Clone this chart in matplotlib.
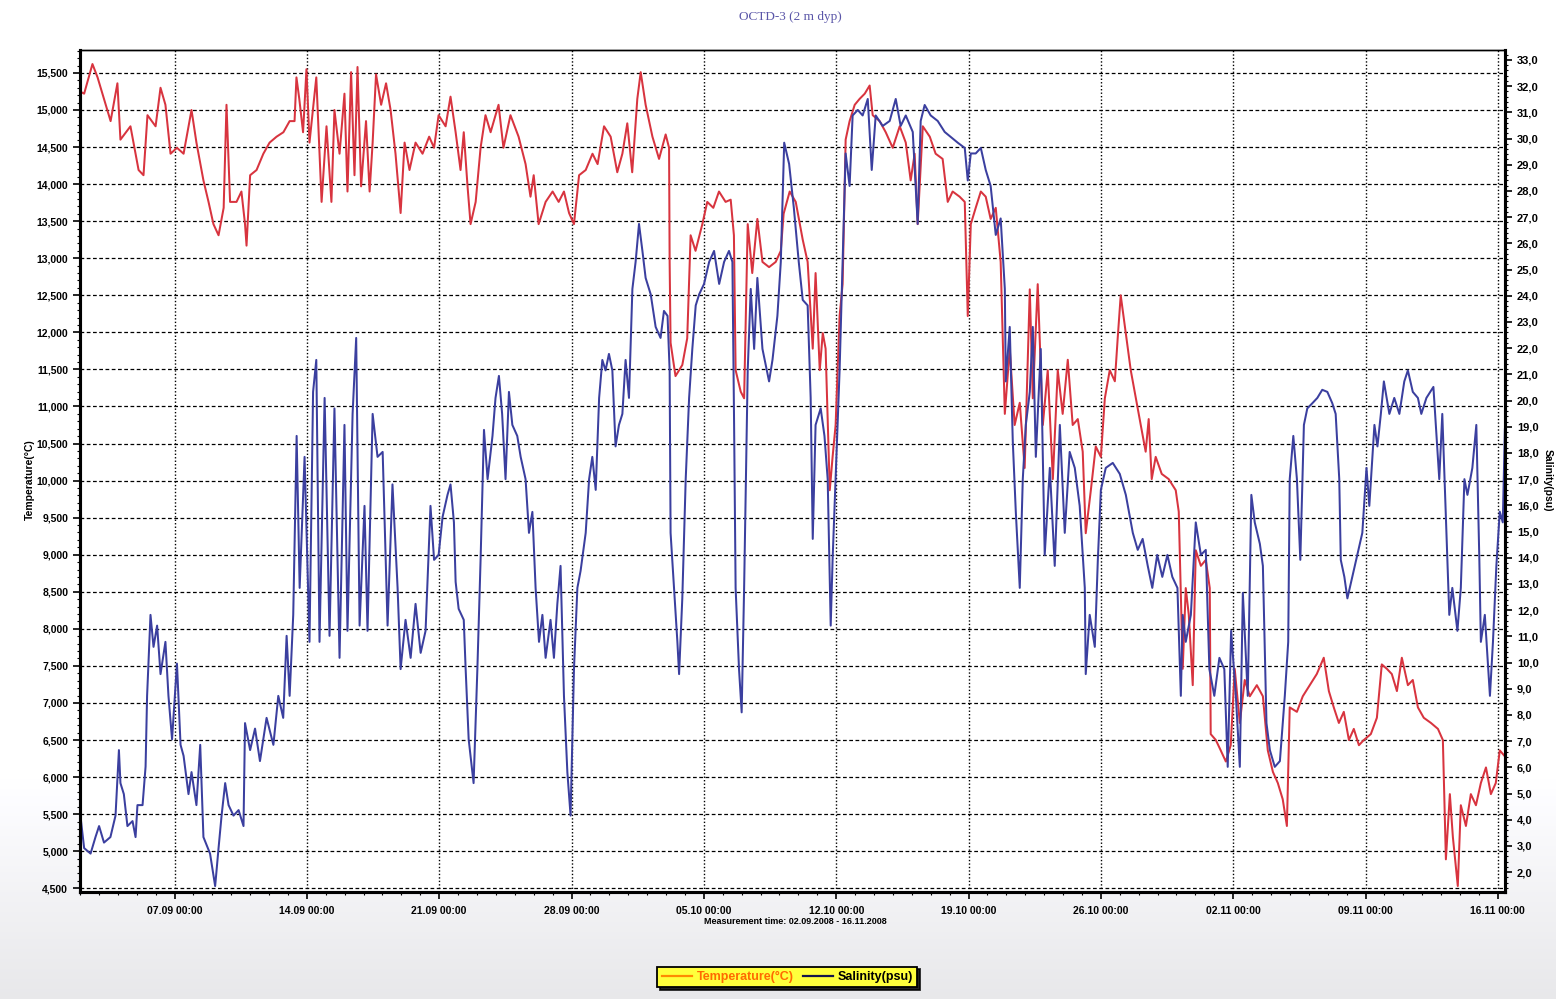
import numpy as np
import pandas as pd
import matplotlib
matplotlib.use('Agg')
import matplotlib.pyplot as plt
import matplotlib.dates as mdates
from matplotlib.ticker import MultipleLocator, FuncFormatter
from matplotlib.lines import Line2D

# logger record OCTD-3, 2 m depth, 02.09.2008 - 16.11.2008
start = pd.Timestamp('2008-09-02 00:00')
end = pd.Timestamp('2008-11-16 09:00')

# temperature (deg C), time in days since start
temp_days = [0.0, 0.22, 0.66, 0.93, 1.27, 1.62, 1.98, 2.14, 2.67, 3.1, 3.36, 3.57, 4.0, 4.26, 4.52,
             4.79, 5.13, 5.48, 5.9, 6.16, 6.53, 6.8, 7.06, 7.33, 7.6, 7.75, 7.94, 8.28, 8.54, 8.73,
             8.81, 9.0, 9.34, 9.7, 10.03, 10.4, 10.76, 11.09, 11.35, 11.45, 11.6, 11.8, 11.98, 12.14,
             12.5, 12.78, 13.04, 13.3, 13.46, 13.73, 13.99, 14.15, 14.34, 14.52, 14.68, 14.87, 15.13,
             15.32, 15.48, 15.66, 15.93, 16.19, 16.43, 16.69, 16.96, 17.17, 17.43, 17.75, 18.12,
             18.47, 18.73, 18.97, 19.34, 19.6, 19.87, 20.13, 20.3, 20.5, 20.66, 20.93, 21.19, 21.45,
             21.72, 22.14, 22.4, 22.77, 23.2, 23.57, 23.83, 24.0, 24.26, 24.63, 25.0, 25.32, 25.6,
             25.87, 26.13, 26.4, 26.75, 27.11, 27.38, 27.72, 28.07, 28.42, 28.69, 28.95, 29.21,
             29.48, 29.66, 29.92, 30.28, 30.63, 30.98, 31.16, 31.19, 31.24, 31.5, 31.86, 32.12,
             32.3, 32.56, 32.92, 33.18, 33.5, 33.8, 34.15, 34.42, 34.59, 34.68, 34.95, 35.13, 35.32,
             35.56, 35.83, 36.1, 36.45, 36.8, 37.07, 37.22, 37.54, 37.86, 38.23, 38.49, 38.76, 38.91,
             39.13, 39.29, 39.44, 39.66, 39.81, 39.97, 40.18, 40.34, 40.5, 40.71, 40.98, 41.24,
             41.51, 41.77, 41.93, 42.3, 42.62, 42.99, 43.36, 43.68, 43.94, 44.15, 44.31, 44.58,
             44.95, 45.26, 45.63, 45.9, 46.16, 46.53, 46.8, 46.96, 47.12, 47.38, 47.65, 47.91,
             48.17, 48.44, 48.7, 48.92, 49.18, 49.44, 49.71, 49.97, 50.24, 50.4, 50.66, 50.93,
             51.19, 51.46, 51.72, 51.98, 52.25, 52.51, 52.78, 53.04, 53.2, 53.47, 53.73, 54.0,
             54.21, 54.47, 54.74, 54.89, 55.05, 55.32, 55.58, 55.85, 56.11, 56.37, 56.53, 56.69,
             56.9, 57.22, 57.59, 57.96, 58.12, 58.33, 58.49, 58.65, 58.86, 59.02, 59.29, 59.55,
             59.76, 59.81, 60.08, 60.34, 60.61, 60.87, 61.08, 61.35, 61.61, 61.88, 62.25, 62.57,
             62.83, 63.1, 63.36, 63.62, 63.84, 63.99, 64.37, 64.68, 65.05, 65.42, 65.79, 66.06,
             66.32, 66.59, 66.85, 67.12, 67.38, 67.65, 67.91, 68.28, 68.6, 68.86, 69.13, 69.39,
             69.66, 69.92, 70.24, 70.5, 70.77, 71.08, 71.46, 71.83, 72.09, 72.25, 72.46, 72.62,
             72.88, 73.04, 73.31, 73.57, 73.84, 74.1, 74.37, 74.63, 74.89, 75.1, 75.37]
temp_vals = [15.25, 15.22, 15.62, 15.44, 15.15, 14.85, 15.36, 14.6, 14.78, 14.19, 14.12, 14.93, 14.78, 15.3, 15.07,
             14.41, 14.49, 14.41, 15.0, 14.56, 14.05, 13.76, 13.46, 13.31, 13.68, 15.07, 13.76, 13.76, 13.9, 13.46,
             13.17, 14.12, 14.19, 14.41, 14.56, 14.64, 14.7, 14.85, 14.85, 15.44, 15.15, 14.7, 15.55, 14.56,
             15.44, 13.76, 14.78, 13.76, 15.0, 14.41, 15.22, 13.9, 15.51, 14.12, 15.58, 13.97, 14.85,
             13.9, 14.56, 15.48, 15.07, 15.36, 15.0, 14.41, 13.61, 14.56, 14.19, 14.56, 14.41,
             14.64, 14.49, 14.93, 14.78, 15.18, 14.7, 14.19, 14.7, 13.97, 13.46, 13.76, 14.49, 14.93,
             14.7, 15.07, 14.49, 14.93, 14.64, 14.27, 13.83, 14.12, 13.46, 13.76, 13.9, 13.76, 13.9,
             13.61, 13.46, 14.12, 14.19, 14.41, 14.27, 14.78, 14.64, 14.16, 14.41, 14.82, 14.16,
             15.15, 15.51, 15.07, 14.64, 14.34, 14.67, 14.49, 12.95, 11.86, 11.41, 11.56, 11.92,
             13.31, 13.1, 13.46, 13.76, 13.68, 13.9, 13.76, 13.79, 13.31, 11.49, 11.2, 11.11, 13.46,
             12.8, 13.53, 12.95, 12.88, 12.95, 13.1, 13.6, 13.9, 13.76, 13.25, 12.95, 11.78, 12.8,
             11.49, 11.99, 11.78, 9.87, 10.32, 10.75, 12.22, 12.65, 14.6, 14.85, 15.07, 15.15,
             15.22, 15.33, 14.93, 14.85, 14.7, 14.49, 14.78, 14.56, 14.05, 14.41, 13.46, 14.78,
             14.64, 14.41, 14.34, 13.76, 13.9, 13.83, 13.76, 12.22, 13.46, 13.68, 13.9, 13.83,
             13.53, 13.68, 12.95, 10.9, 11.78, 10.75, 11.05, 10.17, 12.58, 11.11, 12.65, 10.75,
             11.49, 10.02, 11.49, 10.9, 11.63, 10.75, 10.83, 10.39, 9.29, 9.87, 10.46, 10.32,
             11.11, 11.49, 11.34, 11.92, 12.5, 11.99, 11.49, 11.11, 10.75, 10.39, 10.83, 10.02,
             10.32, 10.09, 10.02, 9.87, 9.58, 7.46, 8.55, 8.19, 7.24, 9.06, 8.85, 8.93,
             8.55, 6.58, 6.5, 6.36, 6.21, 6.43, 7.46, 6.73, 7.31, 7.09, 7.24, 7.09,
             6.36, 6.07, 5.92, 5.7, 5.34, 6.94, 6.88, 7.09, 7.24, 7.39, 7.61, 7.16,
             6.94, 6.73, 6.88, 6.5, 6.65, 6.43, 6.5, 6.58, 6.8, 7.52, 7.46, 7.39,
             7.16, 7.61, 7.24, 7.31, 6.94, 6.8, 6.73, 6.65, 6.5, 4.89, 5.77, 5.19,
             4.53, 5.62, 5.34, 5.77, 5.62, 5.92, 6.13, 5.77, 5.92, 6.36, 6.28]

# salinity (psu), time in days since start
sal_days = [0.0, 0.22, 0.56, 0.82, 1.01, 1.27, 1.61, 1.88, 2.06, 2.14, 2.32, 2.51, 2.78, 2.94, 3.04,
            3.31, 3.47, 3.55, 3.73, 3.89, 4.08, 4.26, 4.52, 4.68, 4.87, 5.13, 5.32, 5.48, 5.74, 5.9,
            6.16, 6.36, 6.53, 6.88, 7.15, 7.33, 7.49, 7.68, 7.86, 8.12, 8.39, 8.65, 8.73, 9.0, 9.26,
            9.52, 9.87, 10.23, 10.49, 10.75, 10.93, 11.09, 11.28, 11.46, 11.62, 11.88, 12.14, 12.33,
            12.5, 12.67, 12.94, 13.2, 13.46, 13.73, 13.99, 14.15, 14.42, 14.61, 14.79, 15.05, 15.21,
            15.48, 15.74, 16.01, 16.27, 16.53, 16.8, 16.96, 17.22, 17.49, 17.75, 18.02, 18.28, 18.54,
            18.73, 18.97, 19.18, 19.44, 19.6, 19.78, 19.87, 20.03, 20.3, 20.4, 20.56, 20.82, 21.02,
            21.19, 21.37, 21.56, 21.82, 21.98, 22.16, 22.33, 22.51, 22.69, 22.87, 23.13, 23.31,
            23.57, 23.75, 23.93, 24.1, 24.28, 24.46, 24.63, 24.89, 25.07, 25.25, 25.42, 25.6,
            25.78, 25.95, 26.13, 26.31, 26.48, 26.75, 26.93, 27.1, 27.28, 27.46, 27.63, 27.8,
            27.98, 28.16, 28.33, 28.51, 28.69, 28.86, 29.04, 29.22, 29.39, 29.57, 29.75, 29.92,
            30.19, 30.45, 30.71, 30.89, 31.08, 31.19, 31.24, 31.42, 31.6, 31.69, 31.86, 32.04,
            32.22, 32.39, 32.57, 32.75, 33.01, 33.28, 33.54, 33.81, 34.07, 34.33, 34.51, 34.6,
            34.68, 34.86, 35.0, 35.13, 35.32, 35.48, 35.66, 35.83, 36.1, 36.27, 36.45, 36.63,
            36.89, 37.07, 37.25, 37.51, 37.76, 38.02, 38.23, 38.49, 38.65, 38.76, 38.91, 39.18,
            39.38, 39.55, 39.71, 39.81, 39.97, 40.18, 40.34, 40.5, 40.71, 40.87, 41.14, 41.4,
            41.67, 41.88, 42.09, 42.46, 42.83, 43.15, 43.41, 43.68, 44.05, 44.31, 44.47, 44.68,
            45.0, 45.37, 45.74, 46.06, 46.43, 46.8, 46.96, 47.12, 47.38, 47.65, 47.91, 48.17,
            48.44, 48.7, 48.92, 48.97, 49.18, 49.34, 49.5, 49.71, 49.87, 50.03, 50.24, 50.4,
            50.56, 50.82, 51.03, 51.3, 51.56, 51.83, 52.09, 52.35, 52.62, 52.88, 53.15, 53.2,
            53.41, 53.68, 53.84, 54.0, 54.26, 54.63, 55.0, 55.32, 55.69, 55.95, 56.21, 56.48,
            56.72, 56.98, 57.25, 57.52, 57.78, 58.05, 58.23, 58.33, 58.49, 58.76, 59.02, 59.29,
            59.55, 59.74, 60.0, 60.27, 60.53, 60.71, 60.89, 61.14, 61.35, 61.51, 61.77, 61.96,
            62.14, 62.41, 62.57, 62.76, 62.94, 63.2, 63.47, 63.73, 63.91, 63.99, 64.18, 64.37,
            64.55, 64.74, 64.92, 65.19, 65.45, 65.71, 65.98, 66.24, 66.42, 66.61, 66.69, 66.88,
            67.04, 67.3, 67.57, 67.83, 68.05, 68.2, 68.47, 68.63, 68.81, 68.97, 69.26, 69.52,
            69.79, 70.05, 70.24, 70.5, 70.77, 70.95, 71.22, 71.59, 71.9, 72.06, 72.24, 72.43,
            72.59, 72.86, 73.04, 73.23, 73.39, 73.65, 73.86, 74.02, 74.1, 74.31, 74.58, 74.74,
            74.92, 75.1, 75.26, 75.37]
sal_vals = [4.3, 2.92, 2.71, 3.34, 3.76, 3.13, 3.34, 4.16, 6.66, 5.4, 4.98, 3.76, 3.95, 3.34, 4.56,
            4.56, 6.03, 8.73, 11.82, 10.6, 11.41, 9.56, 10.79, 8.73, 7.07, 9.96, 6.86, 6.44, 4.98, 5.82,
            4.56, 6.86, 3.34, 2.71, 1.47, 2.92, 4.16, 5.4, 4.56, 4.16, 4.37, 3.76, 7.69, 6.66, 7.48,
            6.24, 7.89, 6.86, 8.73, 7.89, 11.02, 8.73, 11.82, 18.65, 12.85, 17.85, 10.79, 20.33,
            21.55, 10.79, 20.1, 11.02, 19.7, 10.18, 19.07, 11.21, 19.49, 22.39, 11.41, 15.98, 11.21,
            19.49, 17.85, 18.04, 11.41, 16.8, 12.85, 9.75, 11.63, 10.18, 12.24, 10.37, 11.21, 15.98,
            13.92, 14.11, 15.56, 16.4, 16.8, 15.35, 13.08, 12.05, 11.63, 9.75, 7.07, 5.4, 9.75,
            13.92, 18.88, 17.0, 18.65, 20.1, 20.94, 19.49, 17.0, 20.33, 19.07, 18.65, 17.85,
            17.0, 14.95, 15.75, 12.85, 10.79, 11.82, 10.18, 11.63, 10.18, 12.24, 13.69, 8.73,
            5.82, 4.16, 9.75, 12.85, 13.5, 14.95, 17.0, 17.85, 16.59, 20.1, 21.55, 21.15,
            21.78, 21.15, 18.25, 19.07, 19.49, 21.55, 20.1, 24.26, 25.29, 26.74, 25.71, 24.68,
            24.05, 22.81, 22.39, 23.42, 23.23, 21.15, 14.95, 12.85, 10.79, 9.56, 12.45, 17.0,
            20.1, 21.97, 23.63, 24.05, 24.45, 25.29, 25.71, 24.45, 25.29, 25.71, 25.29, 19.07,
            12.85, 9.75, 8.1, 12.85, 21.15, 24.26, 21.97, 24.68, 21.97, 21.36, 20.73, 21.55,
            23.23, 25.29, 29.84, 29.03, 27.35, 25.29, 23.84, 23.63, 20.1, 14.72, 19.07, 19.7,
            18.65, 17.0, 11.41, 13.92, 17.0, 21.15, 25.29, 29.43, 28.19, 30.88, 31.09, 30.88,
            31.51, 28.8, 30.88, 30.48, 30.67, 31.51, 30.48, 30.88, 30.25, 26.74, 30.67, 31.28,
            30.88, 30.67, 30.25, 30.06, 29.84, 29.64, 28.4, 29.43, 29.43, 29.64, 28.8, 28.19,
            26.32, 26.95, 24.26, 20.73, 22.81, 18.46, 15.76, 12.85, 17.0, 19.07, 20.33, 22.81,
            17.85, 21.97, 14.11, 17.43, 13.69, 19.07, 14.95, 18.04, 17.43, 15.98, 12.85, 9.56,
            11.82, 10.6, 13.92, 16.59, 17.43, 17.62, 17.2, 16.4, 14.95, 14.3, 14.72, 13.69,
            12.85, 14.11, 13.27, 14.11, 13.27, 12.85, 8.73, 11.82, 10.79, 11.82, 15.35, 14.11,
            14.3, 9.75, 8.73, 10.18, 9.75, 6.02, 11.21, 8.73, 6.02, 12.66, 8.73, 16.4,
            15.35, 14.53, 13.69, 7.69, 6.66, 6.02, 6.24, 8.73, 10.79, 17.0, 18.65, 17.0,
            13.92, 19.07, 19.7, 19.9, 20.1, 20.41, 20.33, 19.9, 19.49, 17.0, 13.92, 13.27,
            12.45, 13.27, 14.11, 14.95, 17.43, 15.98, 19.07, 18.25, 19.49, 20.73, 19.49, 20.1,
            19.49, 20.73, 21.15, 20.33, 20.1, 19.49, 20.1, 20.52, 17.0, 19.49, 15.76, 11.82,
            12.85, 11.21, 12.85, 17.0, 16.4, 17.43, 19.07, 13.92, 10.79, 11.82, 8.73, 10.79,
            13.69, 15.76, 15.35, 18.9]

week_ticks = pd.date_range('2008-09-07', '2008-11-16', freq='7D')
day_ticks = pd.date_range('2008-09-02', '2008-11-16', freq='D')

temp_time = start + pd.to_timedelta(temp_days, unit='D')
sal_time = start + pd.to_timedelta(sal_days, unit='D')

plt.rcParams['font.family'] = ['Liberation Sans', 'DejaVu Sans']
plt.rcParams['font.weight'] = 'bold'

fig = plt.figure(figsize=(15.56, 9.99), dpi=100)

# pale grey shading towards the bottom of the page
bg = fig.add_axes([0, 0, 1, 1], zorder=-10)
rows = np.linspace(0, 1, 300)
shade = np.clip((rows - 0.78) / 0.22, 0, 1)
grey = 1 - 0.09 * shade
img = np.dstack([grey, grey, grey * 1.01]).reshape(300, 1, 3)
bg.imshow(np.clip(img, 0, 1), aspect='auto', extent=[0, 1, 0, 1])
bg.axis('off')

ax = fig.add_axes([0.0514, 0.107, 0.9158, 0.843])
ax.set_facecolor('white')
ax.plot(temp_time, temp_vals, color='#d8343f', lw=1.45)
ax.set_xlim(start, end)
ax.set_ylim(4.448, 15.81)

ax.yaxis.set_major_locator(MultipleLocator(0.5))
ax.yaxis.set_minor_locator(MultipleLocator(0.1))
ax.yaxis.set_major_formatter(FuncFormatter(lambda v, p: f'{v:.3f}'.replace('.', ',')))
ax.set_xticks(week_ticks)
ax.set_xticks(day_ticks, minor=True)
ax.xaxis.set_major_formatter(mdates.DateFormatter('%d.%m %H:%M'))

ax.grid(axis='y', which='major', color='black', ls=(0, (3, 2)), lw=0.9)
ax.grid(axis='x', which='major', color='black', ls=(0, (1, 1.5)), lw=1.0)
ax.set_axisbelow(True)

ax.tick_params(axis='both', which='major', labelsize=7.5, length=5, width=1.2, direction='out')
ax.tick_params(axis='both', which='minor', length=2.5, width=0.8, direction='out')
ax.tick_params(axis='x', pad=5)

ax2 = ax.twinx()
ax2.plot(sal_time, sal_vals, color='#3b3f9f', lw=1.45)
ax2.set_ylim(1.24, 33.38)
ax2.yaxis.set_major_locator(MultipleLocator(1))
ax2.yaxis.set_minor_locator(MultipleLocator(0.2))
ax2.yaxis.set_major_formatter(FuncFormatter(lambda v, p: f'{v:.1f}'.replace('.', ',')))
ax2.tick_params(axis='y', which='major', labelsize=8, length=5, width=1.2)
ax2.tick_params(axis='y', which='minor', length=2.5, width=0.8)

for a in (ax, ax2):
    a.spines['left'].set_linewidth(2.2)
    a.spines['bottom'].set_linewidth(2.2)
    a.spines['right'].set_linewidth(2.2)
    a.spines['top'].set_linewidth(1.0)

fig.text(0.508, 1 - 17 / 999, 'OCTD-3 (2 m dyp)', ha='center', va='center',
         family='Liberation Serif', fontweight='normal', fontsize=9.5, color='#5a56a8')
fig.text(30 / 1556, 1 - 480 / 999, 'Temperature(°C)', rotation=90, ha='center', va='center', fontsize=7.5)
fig.text(1548 / 1556, 1 - 480 / 999, 'Salinity(psu)', rotation=270, ha='center', va='center', fontsize=7.5)
fig.text(795 / 1556, 1 - 922 / 999, 'Measurement time: 02.09.2008 - 16.11.2008',
         ha='center', va='center', fontsize=6.5)

handles = [Line2D([], [], color='#ff8a00', lw=1.6), Line2D([], [], color='#15154a', lw=1.6)]
leg = fig.legend(handles, ['Temperature(°C)', 'Salinity(psu)'], loc='center',
                 bbox_to_anchor=(0.506, 0.022), ncol=2, fontsize=9, frameon=True,
                 facecolor='#ffff3c', edgecolor='black', framealpha=1, fancybox=False,
                 shadow={'color': 'black', 'alpha': 0.85}, handlelength=2.4,
                 columnspacing=0.7, handletextpad=0.4, borderpad=0.35)
leg.get_frame().set_linewidth(1.3)
leg.get_texts()[0].set_color('#ff6a00')

fig.savefig('out.png', dpi=100)
